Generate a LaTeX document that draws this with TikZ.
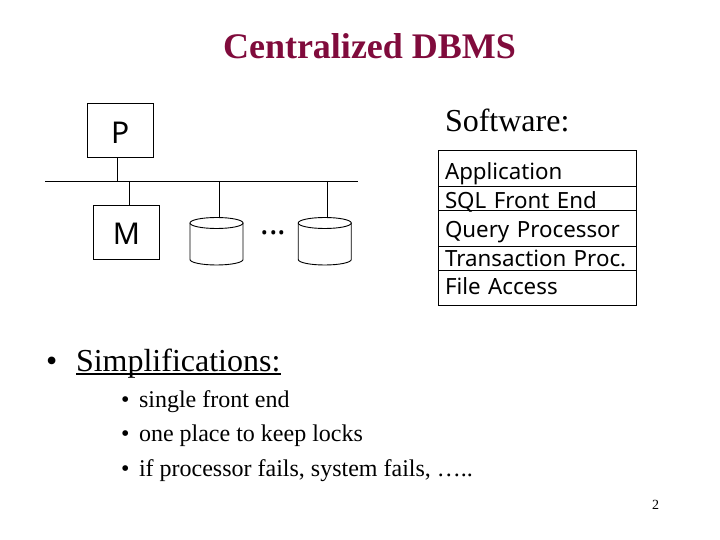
\documentclass[tikz,border=0pt]{standalone}
\usepackage{xcolor}
\usepackage{fontspec}
\setmainfont{Liberation Serif}
\newfontfamily\boxfont{Noto Sans}
\usetikzlibrary{positioning}
\definecolor{titlered}{HTML}{800B3C}

\begin{document}
\begin{tikzpicture}[
  x=1pt, y=-1pt,
  every node/.style={inner sep=0pt, outer sep=0pt},
  wire/.style={line width=0.9pt},
  hwbox/.style={draw, line width=0.9pt, font=\boxfont\fontsize{30}{30}\selectfont},
  disk/.style={minimum width=53pt, minimum height=48pt},
  swrow/.style 2 args={
    draw,
    line width=0.9pt,
    text width=184.5pt,
    inner xsep=6.5pt,
    inner ysep=0pt,
    align=left,
    text height=#1,
    text depth=#2,
    font=\boxfont\fontsize{22.3}{24}\selectfont
  },
  bigtext/.style={anchor=base west, font=\fontsize{32}{32}\selectfont},
  smalltext/.style={anchor=base west, font=\fontsize{24}{24}\selectfont}
]
\useasboundingbox (0,0) rectangle (720,540);

\node[anchor=base, text=titlered, font=\bfseries\fontsize{36}{36}\selectfont] (title) at (369.5,59) {Centralized DBMS};

\node[hwbox, minimum width=66.5pt, minimum height=54pt] (proc) at (120.25,130) {\raisebox{-13.2pt}[0pt][0pt]{P}};
\node[hwbox, minimum width=66pt, minimum height=54.5pt] (mem) at (126.5,232.25) {\raisebox{-12.7pt}[0pt][0pt]{M}};
\node[disk] (disk1) at (216.5,241) {};
\node[disk] (disk2) at (324.75,241) {};
\node[anchor=base, font=\boxfont\bfseries\fontsize{32}{32}\selectfont] (dots) at (273.5,234) {...};

% disks
\foreach \d in {disk1,disk2} {
  \draw[wire] ([yshift=-6pt]\d.north) ellipse [x radius=26.5pt, y radius=5.5pt];
  \draw[wire] ([yshift=-6pt]\d.north west) -- ([yshift=5.5pt]\d.south west)
    arc [start angle=180, end angle=360, x radius=26.5pt, y radius=5.5pt]
    -- ([yshift=-6pt]\d.north east);
}

\coordinate (busleft) at (45,181);
\coordinate (busright) at (358,181);
\coordinate (tapproc) at (117.5,181);
\coordinate (tapmem) at (129.5,181);
\coordinate (tapdisk1) at (219.5,181);
\coordinate (tapdisk2) at (327.5,181);

\draw[wire] (busleft) -- (busright);
\draw[wire] (tapproc) -- (tapproc |- proc.south);
\draw[wire] (tapmem) -- (tapmem |- mem.north);
\draw[wire] (tapdisk1) -- (tapdisk1 |- disk1.north);
\draw[wire] (tapdisk2) -- (tapdisk2 |- disk2.north);

\node[bigtext] (software) at (445,131.5) {Software:};

\node[swrow={29pt}{7pt}, anchor=north west] (app) at (438.5,150.5) {Application};
\node[swrow={22pt}{2pt}, below=0pt of app] (sql) {SQL Front End};
\node[swrow={27pt}{9pt}, below=0pt of sql] (query) {Query Processor};
\node[swrow={19.5pt}{4.5pt}, below=0pt of query] (trans) {Transaction Proc.};
\node[swrow={24pt}{11pt}, below=0pt of trans] (file) {File Access};

\node[bigtext] (mainbullet) at (46,371) {•};
\node[bigtext] (simp) at (76,371) {\rlap{\rule[-3.5pt]{205pt}{1.4pt}}Simplifications:};

\node[smalltext] (bullet1) at (121,407) {•};
\node[smalltext] (item1) at (139,407) {single front end};
\node[smalltext] (bullet2) at (121,441) {•};
\node[smalltext] (item2) at (139,441) {one place to keep locks};
\node[smalltext] (bullet3) at (121,476) {•};
\node[smalltext] (item3) at (139,476) {if processor fails, system fails, …..};

\node[anchor=base, font=\fontsize{14}{14}\selectfont] (pagenum) at (655.5,509) {2};

\end{tikzpicture}
\end{document}
